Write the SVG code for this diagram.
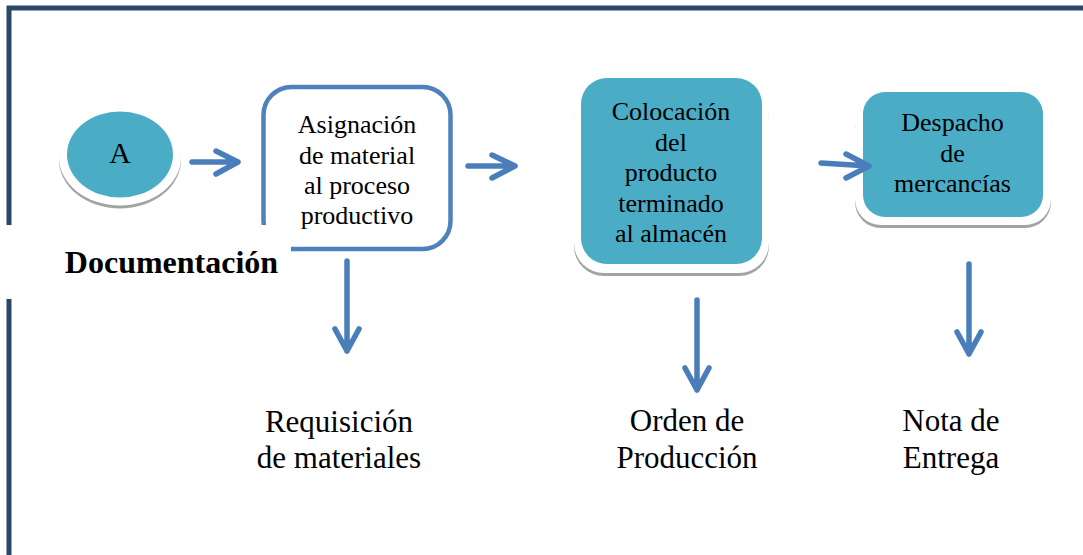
<svg xmlns="http://www.w3.org/2000/svg" width="1083" height="555" viewBox="0 0 1083 555">
<defs>
<style>
text{font-family:'Liberation Serif','Times New Roman',Tinos,'DejaVu Serif',serif;fill:#000;text-anchor:middle}
.box{font-size:26px}
.doc{font-size:31px}
.teal{fill:#4bacc6}
.sh{fill:#a3a3a3}
.shw{fill:#ffffff}
.arr{stroke:#4a7ebb;stroke-width:5.5;fill:none;stroke-linecap:round;stroke-linejoin:round}
.frame{stroke:#2b466b;stroke-width:5;fill:none}
</style>
</defs>
<rect width="1083" height="555" fill="#ffffff"/>
<g id="frame">
<path class="frame" d="M1083 8 H9 V225"/>
<path class="frame" d="M9 299 V555"/>
</g>
<g id="node-A">
<ellipse class="sh" cx="120" cy="160" rx="61" ry="48.5"/>
<ellipse class="shw" cx="120" cy="157.5" rx="61" ry="48"/>
<ellipse class="teal" cx="120" cy="154.5" rx="53" ry="43"/>
<text x="120" y="163" font-size="30">A</text>
</g>
<g id="node-asignacion">
<rect x="263.5" y="87" width="187" height="162" rx="28" fill="none" stroke="#4f81bd" stroke-width="4.5"/>
<text class="box" x="357" y="133">Asignación</text>
<text class="box" x="357" y="164">de material</text>
<text class="box" x="357" y="194">al proceso</text>
<text class="box" x="357" y="224">productivo</text>
</g>
<g id="doc-label">
<rect x="0" y="225" width="291" height="74" fill="#ffffff"/>
<text x="171.5" y="273" font-size="32" font-weight="bold">Documentación</text>
</g>
<g id="node-colocacion">
<rect class="sh" x="574" y="92" width="195" height="184" rx="30"/>
<rect class="shw" x="574" y="90" width="195" height="183" rx="30"/>
<rect class="teal" x="581" y="78" width="181" height="186" rx="26"/>
<text class="box" x="671" y="120">Colocación</text>
<text class="box" x="671" y="151">del</text>
<text class="box" x="671" y="181">producto</text>
<text class="box" x="671" y="212">terminado</text>
<text class="box" x="671" y="242">al almacén</text>
</g>
<g id="node-despacho">
<rect class="sh" x="855" y="105" width="196" height="123" rx="26"/>
<rect class="shw" x="855" y="103" width="196" height="122" rx="26"/>
<rect class="teal" x="863" y="92" width="180" height="125" rx="22"/>
<text class="box" x="952.5" y="131">Despacho</text>
<text class="box" x="952.5" y="162">de</text>
<text class="box" x="952.5" y="192">mercancías</text>
</g>
<g id="doc-requisicion">
<text class="doc" x="339" y="432">Requisición</text>
<text class="doc" x="339" y="468">de materiales</text>
</g>
<g id="doc-orden">
<text class="doc" x="687" y="431">Orden de</text>
<text class="doc" x="687" y="468">Producción</text>
</g>
<g id="doc-nota">
<text class="doc" x="951" y="431">Nota de</text>
<text class="doc" x="951" y="468">Entrega</text>
</g>
<g id="connectors">
<path class="arr" d="M192 162 H238 M216 151 L238 162 L216 174"/>
<path class="arr" d="M468 166 H515 M492 155 L515 166 L492 178"/>
<path class="arr" d="M821 163 L869 166 M846 154 L869 166 L846 178"/>
<path class="arr" d="M347 261 V351 M335 329 L347 351 L359 329"/>
<path class="arr" d="M697 300 V390 M685 368 L697 390 L709 368"/>
<path class="arr" d="M969 264 V354 M957 332 L969 354 L981 332"/>
</g>
</svg>
